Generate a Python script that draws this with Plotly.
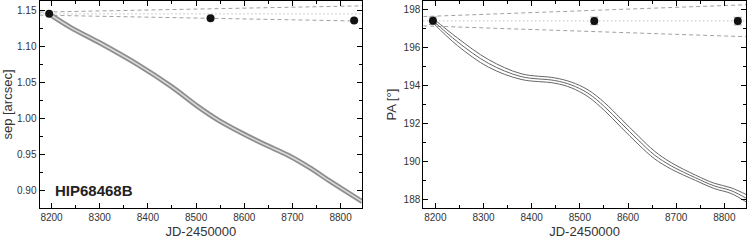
import plotly.graph_objects as go

# ---- data ----
obs_jd = [8195, 8530, 8828]
sep_obs = [1.1454, 1.1394, 1.1361]
pa_obs = [197.39, 197.38, 197.37]
pa_err = [0.2, 0.2, 0.2]

edge_jd = [8175, 8845]
sep_cone_hi = [1.1478, 1.1565]
sep_cone_lo = [1.1436, 1.1353]
sep_const = [1.1454, 1.1454]
pa_cone_hi = [197.61, 198.23]
pa_cone_lo = [197.12, 196.55]
pa_const = [197.38, 197.38]

sep_jd = [8195, 8241, 8299, 8380, 8449, 8504, 8546, 8595, 8643, 8690, 8733, 8781, 8845]
sep_track = [1.1454, 1.126, 1.1056, 1.0746, 1.0444, 1.0167, 0.998, 0.980, 0.964, 0.9495, 0.933, 0.912, 0.8847]

pa_jd = [8195, 8246, 8310, 8378, 8448, 8482, 8517, 8551, 8586, 8621, 8655, 8690, 8740, 8779, 8814, 8849]
pa_mid = [197.40, 196.28, 195.15, 194.45, 194.24, 194.01, 193.57, 192.87, 191.99, 191.11, 190.32, 189.74, 189.12, 188.69, 188.44, 187.99]
pa_hi = [197.52, 196.48, 195.35, 194.60, 194.38, 194.16, 193.75, 193.08, 192.21, 191.33, 190.52, 189.91, 189.26, 188.83, 188.59, 188.19]
pa_lo = [197.28, 196.08, 194.95, 194.30, 194.10, 193.86, 193.39, 192.66, 191.77, 190.89, 190.12, 189.57, 188.98, 188.55, 188.29, 187.79]

x_range = [8175, 8845]
sep_range = [0.8756, 1.1635]
pa_range = [187.51, 198.44]

FONT = "Liberation Sans, Arial, sans-serif"
W, H = 747, 242

fig = go.Figure()

# left panel
fig.add_trace(go.Scatter(x=edge_jd, y=sep_cone_hi, mode="lines", line=dict(color="#a0a0a0", width=1, dash="4px,3px"), xaxis="x", yaxis="y", showlegend=False))
fig.add_trace(go.Scatter(x=edge_jd, y=sep_cone_lo, mode="lines", line=dict(color="#a0a0a0", width=1, dash="4px,3px"), xaxis="x", yaxis="y", showlegend=False))
fig.add_trace(go.Scatter(x=edge_jd, y=sep_const, mode="lines", line=dict(color="#a0a0a0", width=1, dash="1px,3px"), xaxis="x", yaxis="y", showlegend=False))
fig.add_trace(go.Scatter(x=sep_jd, y=sep_track, mode="lines", line=dict(color="#8e8e8e", width=5, shape="spline"), xaxis="x", yaxis="y", showlegend=False))
fig.add_trace(go.Scatter(x=sep_jd, y=sep_track, mode="lines", line=dict(color="#dcdcdc", width=1.5, shape="spline"), xaxis="x", yaxis="y", showlegend=False))
fig.add_trace(go.Scatter(x=obs_jd, y=sep_obs, mode="markers", marker=dict(color="#111", size=8), xaxis="x", yaxis="y", showlegend=False))

# right panel
fig.add_trace(go.Scatter(x=edge_jd, y=pa_cone_hi, mode="lines", line=dict(color="#a0a0a0", width=1, dash="4px,3px"), xaxis="x2", yaxis="y2", showlegend=False))
fig.add_trace(go.Scatter(x=edge_jd, y=pa_cone_lo, mode="lines", line=dict(color="#a0a0a0", width=1, dash="4px,3px"), xaxis="x2", yaxis="y2", showlegend=False))
fig.add_trace(go.Scatter(x=edge_jd, y=pa_const, mode="lines", line=dict(color="#a0a0a0", width=1, dash="1px,3px"), xaxis="x2", yaxis="y2", showlegend=False))
for arr in (pa_hi, pa_mid, pa_lo):
    fig.add_trace(go.Scatter(x=pa_jd, y=arr, mode="lines", line=dict(color="#666", width=1, shape="spline"), xaxis="x2", yaxis="y2", showlegend=False))
fig.add_trace(go.Scatter(x=obs_jd, y=pa_obs, mode="markers",
                         error_y=dict(type="data", array=pa_err, color="#999", thickness=1, width=4),
                         marker=dict(color="#111", size=8), xaxis="x2", yaxis="y2", showlegend=False))

axis_common = dict(showline=True, linecolor="black", linewidth=1, mirror="ticks",
                   ticks="inside", ticklen=5, tickcolor="black", tickwidth=1,
                   showgrid=False, zeroline=False,
                   tickfont=dict(family=FONT, size=10, color="#333"))

xl = 39.5 / W
xr1 = 362.3 / W
xl2 = 423.3 / W
xr2 = 746.0 / W
yb = 1 - 208.3 / H
yt = 1 - 0.8 / H

fig.update_layout(
    width=W, height=H,
    margin=dict(l=0, r=0, t=0, b=0),
    paper_bgcolor="white", plot_bgcolor="white",
    hovermode=False,
    xaxis=dict(domain=[xl, xr1], range=x_range, dtick=100, tick0=8200, anchor="y",
               minor=dict(dtick=50, tick0=8200, ticks="inside", ticklen=3, tickcolor="black"),
               title=dict(text="JD-2450000", font=dict(family=FONT, size=13, color="#333"), standoff=4),
               **axis_common),
    yaxis=dict(domain=[yb, yt], range=sep_range, dtick=0.05, tick0=0.9, tickformat=".2f", anchor="x",
               minor=dict(dtick=0.025, tick0=0.9, ticks="inside", ticklen=3, tickcolor="black"),
               title=dict(text="sep [arcsec]", font=dict(family=FONT, size=13, color="#333"), standoff=4),
               **axis_common),
    xaxis2=dict(domain=[xl2, xr2], range=x_range, dtick=100, tick0=8200, anchor="y2",
                minor=dict(dtick=50, tick0=8200, ticks="inside", ticklen=3, tickcolor="black"),
                title=dict(text="JD-2450000", font=dict(family=FONT, size=13, color="#333"), standoff=4),
                **axis_common),
    yaxis2=dict(domain=[yb, yt], range=pa_range, dtick=2, tick0=188, anchor="x2",
                minor=dict(dtick=1, tick0=188, ticks="inside", ticklen=3, tickcolor="black"),
                title=dict(text="PA [°]", font=dict(family=FONT, size=13, color="#333"), standoff=4),
                **axis_common),
    annotations=[dict(text="<b>HIP68468B</b>", x=8203, y=0.9, xref="x", yref="y",
                      xanchor="left", yanchor="middle", showarrow=False,
                      font=dict(family=FONT, size=15, color="#222"))],
)

fig.write_html("out.html", config={"displayModeBar": False, "staticPlot": True},
               post_script="document.body.style.margin='0';document.body.style.overflow='hidden';")
